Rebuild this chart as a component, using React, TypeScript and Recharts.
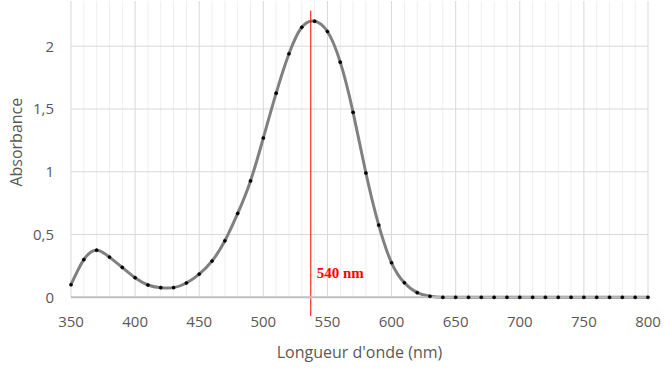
import React from 'react';
import {
  LineChart, Line, XAxis, YAxis, CartesianGrid, ReferenceLine, ReferenceDot,
} from 'recharts';

const wavelengths = [350, 360, 370, 380, 390, 400, 410, 420, 430, 440, 450, 460, 470, 480, 490, 500, 510, 520, 530, 540, 550, 560, 570, 580, 590, 600, 610, 620, 630, 640, 650, 660, 670, 680, 690, 700, 710, 720, 730, 740, 750, 760, 770, 780, 790, 800];
const absorbance = [0.1, 0.3, 0.375, 0.32, 0.238, 0.156, 0.098, 0.077, 0.077, 0.114, 0.185, 0.289, 0.45, 0.668, 0.927, 1.269, 1.626, 1.94, 2.151, 2.199, 2.117, 1.873, 1.473, 0.99, 0.575, 0.275, 0.116, 0.037, 0.008, 0, 0, 0, 0, 0, 0, 0, 0, 0, 0, 0, 0, 0, 0, 0, 0, 0];

const xTicks = [350, 400, 450, 500, 550, 600, 650, 700, 750, 800];
const xMinor = [360, 370, 380, 390, 410, 420, 430, 440, 460, 470, 480, 490, 510, 520, 530, 540, 560, 570, 580, 590, 610, 620, 630, 640, 660, 670, 680, 690, 710, 720, 730, 740, 760, 770, 780, 790];
const yTicks = [0, 0.5, 1, 1.5, 2];
const yTickLabels = ['0', '0,5', '1', '1,5', '2'];
const peakLineX = 537;
const peakLabel = '540 nm';

const data = wavelengths.map((w, i) => ({ w, a: absorbance[i] }));

const font = '"Open Sans", "Liberation Sans", sans-serif';

export default function App() {
  return (
    <div style={{ position: 'absolute', left: 0, top: 0, background: '#fff' }}>
      <LineChart
        width={664}
        height={370}
        data={data}
        margin={{ top: 1, right: 16, bottom: 0, left: 0 }}
      >
        <CartesianGrid
          horizontal={false}
          verticalValues={xMinor}
          stroke="#efefef"
          strokeWidth={1}
        />
        <CartesianGrid
          horizontalValues={[0.5, 1, 1.5, 2]}
          verticalValues={xTicks}
          stroke="#d9d9d9"
          strokeWidth={1}
        />
        <XAxis
          dataKey="w"
          type="number"
          domain={[350, 800]}
          ticks={xTicks}
          interval={0}
          height={72.7}
          tickLine={false}
          tickSize={6}
          tickMargin={13}
          axisLine={{ stroke: '#bfbfbf', strokeWidth: 2 }}
          tick={{ fill: '#595959', fontSize: 15, fontFamily: font }}
          label={{ value: "Longueur d'onde (nm)", position: 'insideBottom', offset: 12, fill: '#595959', fontSize: 16, fontFamily: font }}
        />
        <YAxis
          type="number"
          domain={[0, 2.36]}
          ticks={yTicks}
          interval={0}
          width={71}
          tickLine={false}
          axisLine={false}
          tickSize={6}
          tickMargin={11}
          tickFormatter={(v: number) => yTickLabels[yTicks.indexOf(v)] ?? String(v)}
          tick={{ fill: '#595959', fontSize: 15, fontFamily: font }}
          label={{ value: 'Absorbance', angle: -90, position: 'center', dx: -19.5, dy: -7, fill: '#595959', fontSize: 16, fontFamily: font }}
        />
        <Line
          type="natural"
          dataKey="a"
          stroke="#808080"
          strokeWidth={3}
          dot={{ r: 1.6, fill: '#000', stroke: '#000', strokeWidth: 0.5 }}
          activeDot={false}
          isAnimationActive={false}
        />
        <ReferenceLine
          segment={[{ x: peakLineX, y: 2.284 }, { x: peakLineX, y: -0.15 }]}
          stroke="#ff0000"
          strokeWidth={1}
          ifOverflow="visible"
        />
        <ReferenceDot
          x={peakLineX}
          y={0.2}
          r={0}
          fill="none"
          stroke="none"
          ifOverflow="visible"
          label={{ value: peakLabel, position: 'right', offset: 6, fill: '#ff0000', fontSize: 15, fontWeight: 'bold', fontFamily: '"Liberation Serif", "DejaVu Serif", serif' }}
        />
      </LineChart>
    </div>
  );
}
